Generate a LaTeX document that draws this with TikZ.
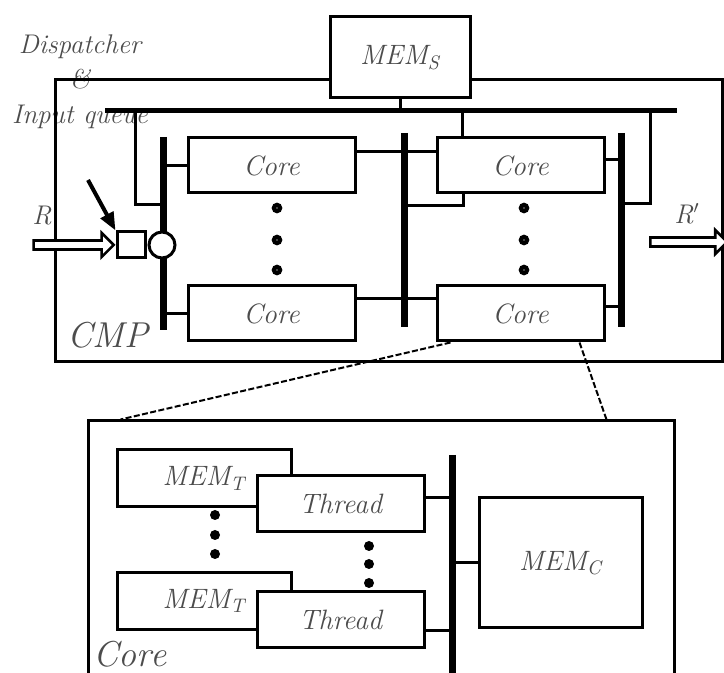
\documentclass[tikz,border=0pt]{standalone}
\usepackage{tikz}
\usetikzlibrary{arrows.meta,positioning,shapes.arrows}
\tikzset{
  lbl/.style={text=black!70, font=\fontsize{13.5}{17.5}\selectfont\itshape, inner sep=0pt},
  biglbl/.style={text=black!70, font=\fontsize{18}{20}\selectfont\itshape, inner sep=0pt},
  box/.style={draw=black, line width=1.5pt, fill=white, inner sep=0pt, text=black!70, font=\fontsize{14}{16}\selectfont\itshape},
  corebox/.style={box, minimum width=83.5pt, minimum height=27.5pt},
  thbox/.style={box, minimum width=83.5pt, minimum height=28pt},
  memtbox/.style={box, minimum width=87pt, minimum height=28.5pt},
  frame/.style={draw=black, line width=1.5pt, inner sep=0pt},
  wire/.style={line width=1.5pt},
  bar/.style={line width=3.5pt},
  busln/.style={line width=2.5pt},
  ring/.style={circle, draw=black, line width=2.2pt, fill=white, minimum size=3pt, inner sep=0pt},
  blob/.style={circle, fill=black, minimum size=5pt, inner sep=0pt},
  harrow/.style={single arrow, draw=black, line width=1.3pt, fill=white, inner sep=1.6pt,
    single arrow head extend=3.8pt, single arrow head indent=0pt, minimum height=40pt},
  zoomln/.style={line width=1pt, dash pattern=on 3pt off 1.2pt}
}
\begin{document}
\begin{tikzpicture}[x=0.5pt,y=-0.5pt]
\useasboundingbox (0,0) rectangle (724,673);
\clip (0,0) rectangle (724,673);

% CMP level
\node[lbl, align=center] (disp) at (80,82) {Dispatcher\\\&\\Input queue};
\node[frame, minimum width=333.5pt, minimum height=141pt] (cmp) at (388.5,221) {};
\node[box, minimum width=70pt, minimum height=40.5pt] (mems) at (400,57.5) {MEM\textsubscript{S}};
\node[biglbl] (cmplbl) at (108,335) {CMP};

\coordinate (busL) at (105,111);  \coordinate (busR) at (677,111);
\coordinate (b1a) at (163,137);   \coordinate (b1b) at (163,330);
\coordinate (b2a) at (404,133);   \coordinate (b2b) at (404,327);
\coordinate (b3a) at (621,133);   \coordinate (b3b) at (621,327);
\coordinate (tapA) at (135,111);  \coordinate (joinA) at (163,205);
\coordinate (joinB) at (404,206);
\coordinate (tapC) at (650,111);  \coordinate (joinC) at (621,204);

\node[corebox] (c1) at (271.5,165.5) {Core};
\node[corebox, below=45pt of c1] (c2) {Core};
\node[corebox, right=39.5pt of c1] (c3) {Core};
\node[corebox, below=45pt of c3] (c4) {Core};

\draw[busln] (busL) -- (busR);
\draw[wire] (mems.south) -- (mems.south |- busL);
\draw[wire] (tapA) |- (joinA);
\draw[wire] (tapC) |- (joinC);
\draw[wire] ([xshift=-29pt]c3.north) -- ([xshift=-29pt]c3.north |- busL);
\draw[wire] ([xshift=-28.5pt]c3.south) |- (joinB);
\draw[wire] (c1.west) -- (c1.west -| b1a);
\draw[wire] (c2.west) -- (c2.west -| b1a);
\draw[wire] ([yshift=6.75pt]c1.east) -- ([yshift=6.75pt]c3.west);
\draw[wire] ([yshift=7.5pt]c2.east) -- ([yshift=7.5pt]c4.west);
\draw[wire] ([yshift=2.75pt]c3.east) -- ([yshift=2.75pt]c3.east -| b3a);
\draw[wire] ([yshift=3.5pt]c4.east) -- ([yshift=3.5pt]c4.east -| b3a);
\draw[bar] (b1a) -- (b1b);
\draw[bar] (b2a) -- (b2b);
\draw[bar] (b3a) -- (b3b);

\foreach \y [count=\i] in {208,240,270} {
  \node[ring] (dl\i) at (277,\y) {};
  \node[ring] (dr\i) at (524,\y) {};
}

% dispatcher and input queue
\node[box, minimum width=14pt, minimum height=13pt] (queue) at (131,245) {};
\node[box, circle, minimum size=13pt] (disc) at (162,245) {};
\coordinate (ptr) at (88,180);
\draw[line width=2pt, -{Triangle[length=9pt,width=7pt]}] (ptr) -- (queue.north west);
\node[harrow, anchor=tip] (rarr) at (queue.west) {};
\node[lbl] (rin) at (42,216) {R};
\coordinate (rdst) at (649,242);
\node[harrow, anchor=tail, minimum height=38.5pt] (rarr2) at (rdst) {};
\node[lbl] (rout) at (687,214) {R$'$};

% zoom into one core
\node[frame, minimum width=293pt, minimum height=140pt] (corebig) at (381,561) {};
\draw[zoomln] ([xshift=-35pt]c4.south) -- ([xshift=17pt]corebig.north west);
\draw[zoomln] ([xshift=29.5pt]c4.south) -- ([xshift=-34.5pt]corebig.north east);
\node[biglbl] (corelbl) at (130,654) {Core};

\node[memtbox] (mt1) at (204,478.5) {MEM\textsubscript{T}};
\node[memtbox] (mt2) at (204,601) {MEM\textsubscript{T}};
\node[thbox] (th1) at (340.5,504) {Thread};
\node[thbox, below=28.5pt of th1] (th2) {Thread};
\node[box, minimum width=81.5pt, minimum height=65pt] (memc) at (560.5,563) {MEM\textsubscript{C}};

\coordinate (b4a) at (452,455); \coordinate (b4b) at (452,700);
\draw[wire] ([yshift=3pt]th1.east) -- ([yshift=3pt]th1.east -| b4a);
\draw[wire] ([yshift=-5.25pt]th2.east) -- ([yshift=-5.25pt]th2.east -| b4a);
\draw[wire] (memc.west) -- (memc.west -| b4a);
\draw[bar] (b4a) -- (b4b);

\foreach \y [count=\i] in {515,535,554} {
  \node[blob] (tl\i) at (215,\y) {};
}
\foreach \y [count=\i] in {546,564,583} {
  \node[blob] (tr\i) at (369,\y) {};
}
\end{tikzpicture}
\end{document}
